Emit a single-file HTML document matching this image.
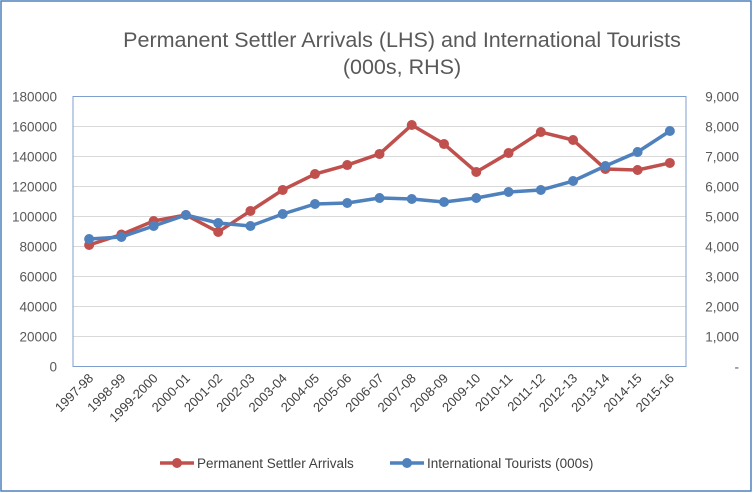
<!DOCTYPE html>
<html><head><meta charset="utf-8"><style>
body{margin:0;background:#fff}
svg{display:block;font-family:"Liberation Sans",sans-serif}
</style></head><body>
<svg id="c" width="754" height="493">
<rect x="1" y="1" width="750" height="490" fill="#fff" stroke="#4f81bd" stroke-width="1.5"/>
<text x="402" y="47" text-anchor="middle" font-size="21.5" fill="#595959">Permanent Settler Arrivals (LHS) and International Tourists</text>
<text x="402" y="74" text-anchor="middle" font-size="21.5" fill="#595959">(000s, RHS)</text>
<g id="g"></g>
</svg>
<script>
const categories=["1997-98","1998-99","1999-2000","2000-01","2001-02","2002-03","2003-04","2004-05","2005-06","2006-07","2007-08","2008-09","2009-10","2010-11","2011-12","2012-13","2013-14","2014-15","2015-16"];
const settlers=[81000,88000,97000,101000,89700,103700,117700,128300,134300,141700,161000,148300,129700,142300,156300,151000,131700,131000,135700];
const tourists=[4250,4317,4683,5050,4783,4683,5083,5417,5450,5617,5583,5483,5617,5817,5883,6183,6683,7150,7850];
const leftTicks=[0,20000,40000,60000,80000,100000,120000,140000,160000,180000];
const rightTicks=["-","1,000","2,000","3,000","4,000","5,000","6,000","7,000","8,000","9,000"];
const NS="http://www.w3.org/2000/svg",g=document.getElementById('g');
const L=73,R=686,T=96.5,B=366.5,bw=(R-L)/categories.length;
const xs=i=>L+bw*(i+0.5);
const yL=v=>B-(v/180000)*(B-T);
const yR=v=>B-(v/9000)*(B-T);
function mk(t,a){const e=document.createElementNS(NS,t);for(const k in a)e.setAttribute(k,a[k]);g.appendChild(e);return e;}
leftTicks.forEach((v,i)=>{
 const y=yL(v);
 const ln=mk('line',{x1:L,x2:R,y1:y,y2:y,stroke:'#d9d9d9','stroke-width':1});
 
 
 const t=mk('text',{x:57,y:y+5,'text-anchor':'end','font-size':13.5,fill:'#595959'});t.textContent=v;
 
 
 const t2=mk('text',{x:739,y:y+5,'text-anchor':'end','font-size':13.5,fill:'#595959'});t2.textContent=rightTicks[i];
 
 
});
const fr=mk('rect',{x:L,y:T,width:R-L,height:B-T,fill:'none',stroke:'#7f9fcf','stroke-width':1});


categories.forEach((c,i)=>{
 const x=xs(i)+5,y=379;
 const t=mk('text',{x:x,y:y,'text-anchor':'end','font-size':13,fill:'#404040',transform:`rotate(-45 ${x} ${y})`});t.textContent=c;
 
 
});
function series(vals,yf,col,name){
 const p=mk('polyline',{points:vals.map((v,i)=>xs(i)+','+yf(v)).join(' '),fill:'none',stroke:col,'stroke-width':3.5,'stroke-linejoin':'round'});
 
 
 vals.forEach((v,i)=>{const c=mk('circle',{cx:xs(i),cy:yf(v),r:5,fill:col});
 
 });
}
series(settlers,yL,'#c0504d','settlers');
series(tourists,yR,'#4f81bd','tourists');
function leg(x,col,txt,name){
 const l=mk('line',{x1:x,x2:x+34,y1:463,y2:463,stroke:col,'stroke-width':3.5});
 
 
 const c=mk('circle',{cx:x+17,cy:463,r:5,fill:col});
 
 
 const t=mk('text',{x:x+37,y:468,'font-size':13.5,fill:'#404040'});t.textContent=txt;
 
 
}
leg(160,'#c0504d','Permanent Settler Arrivals','settlers');
leg(390,'#4f81bd','International Tourists (000s)','tourists');
</script>
</body></html>
